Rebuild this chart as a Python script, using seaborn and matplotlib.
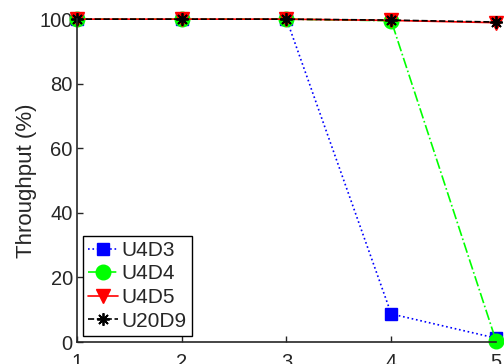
import matplotlib
matplotlib.use('Agg')
import matplotlib.pyplot as plt
import seaborn as sns
import pandas as pd

# Datos
x_vals = [1, 2, 3, 4, 5]
u4d3 = [100, 100, 100, 8.7, 1.2]
u4d4 = [100, 100, 100, 99.5, 0.4]
u4d5 = [100, 100, 100, 99.6, 98.9]
u20d9 = [100, 100, 100, 99.7, 99.1]

series_names = ['U4D3', 'U4D4', 'U4D5', 'U20D9']
series_vals = [u4d3, u4d4, u4d5, u20d9]
colors = ['#0000ff', '#00ff00', '#ff0000', '#000000']
markers = ['s', 'o', 'v', (8, 2, 0)]
linestyles = [':', '-.', '-', '--']
msizes = [8, 10.5, 10, 9]

sns.set_style('ticks')
plt.rcParams['font.family'] = ['Liberation Sans', 'DejaVu Sans']
plt.rcParams['xtick.direction'] = 'in'
plt.rcParams['ytick.direction'] = 'in'

fig = plt.figure(figsize=(5.04, 3.64), dpi=100)
ax = fig.add_axes([0.1528, 0.0604, 0.8313, 0.887])

for name, vals, c, m, ls, ms in zip(series_names, series_vals, colors, markers, linestyles, msizes):
    df = pd.DataFrame({'x': x_vals, 'y': vals})
    sns.lineplot(data=df, x='x', y='y', ax=ax, color=c, marker=m, linestyle=ls,
                 markersize=ms, markeredgecolor=c, markerfacecolor=c,
                 markeredgewidth=1.3 if name == 'U20D9' else 1,
                 linewidth=1.2, label=name, clip_on=False)

ax.set_xlim(1, 5)
ax.set_ylim(0, 100)
ax.set_xticks([1, 2, 3, 4, 5])
ax.set_yticks([0, 20, 40, 60, 80, 100])
ax.set_xlabel('')
ax.set_ylabel('Throughput (%)', fontsize=16, labelpad=2)
ax.tick_params(axis='both', labelsize=14.5, length=4, width=1, pad=3)
ax.tick_params(axis='x', pad=8)
sns.despine(ax=ax)
ax.spines['left'].set_linewidth(1.2)
ax.spines['bottom'].set_linewidth(1.2)

leg = ax.legend(loc='lower left', fontsize=15, frameon=True, fancybox=False,
                handlelength=1.4, handletextpad=0.2, labelspacing=0.22,
                borderpad=0.25, borderaxespad=0.3)
leg.get_frame().set_edgecolor('black')
leg.get_frame().set_linewidth(1)
leg.get_frame().set_alpha(1)

fig.savefig('out.png', dpi=100)
